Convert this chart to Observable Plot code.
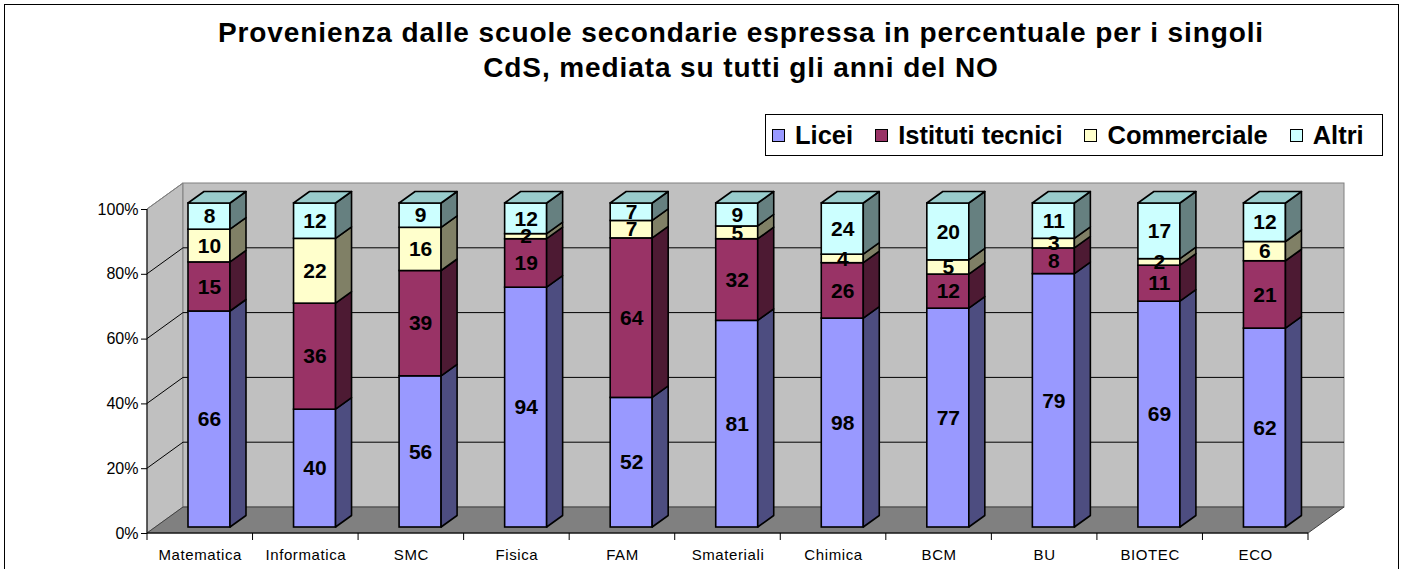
<!DOCTYPE html>
<html>
<head>
<meta charset="utf-8">
<script src="https://cdn.jsdelivr.net/npm/d3@7"></script>
<script src="https://cdn.jsdelivr.net/npm/@observablehq/plot@0.6"></script>
<style>
  html, body { margin: 0; padding: 0; background: #fff; width: 1405px; height: 569px; overflow: hidden; }
  body { font-family: "Liberation Sans", Arial, sans-serif; color: #000; position: relative; }
  #border { position: absolute; left: 4px; top: 4px; width: 1395px; height: 600px; border: 1px solid #000; box-sizing: border-box; }
  #title { position: absolute; left: 0; top: 15px; width: 1482px; text-align: center; font-weight: bold; font-size: 28px; letter-spacing: 0.9px; line-height: 35px; white-space: nowrap; }
  #legend { position: absolute; left: 765px; top: 114px; width: 618px; height: 42px; border: 1px solid #000; box-sizing: border-box; display: flex; align-items: center; padding-left: 6px; background: #fff; white-space: nowrap; overflow: visible; }
  .item { display: flex; align-items: center; flex-shrink: 0; margin-right: 22px; font-weight: bold; font-size: 25.5px; white-space: nowrap; }
  .sw { display: inline-block; flex-shrink: 0; width: 13px; height: 13px; border: 1px solid #000; box-sizing: border-box; margin-right: 10px; }
  #chart { position: absolute; left: 0; top: 170px; }
  #chart g[aria-label="x-axis tick label"] text { letter-spacing: 0.6px; }
</style>
</head>
<body>
<div id="border"></div>
<div id="title">Provenienza dalle scuole secondarie espressa in percentuale per i singoli<br>CdS, mediata su tutti gli anni del NO</div>
<div id="legend"></div>
<div id="chart"></div>
<script>
// ---------------- data ----------------
const categories = ["Matematica", "Informatica", "SMC", "Fisica", "FAM", "Smateriali", "Chimica", "BCM", "BU", "BIOTEC", "ECO"];
const seriesNames = ["Licei", "Istituti tecnici", "Commerciale", "Altri"];
const licei = [66, 40, 56, 94, 52, 81, 98, 77, 79, 69, 62];
const istitutiTecnici = [15, 36, 39, 19, 64, 32, 26, 12, 8, 11, 21];
const commerciale = [10, 22, 16, 2, 7, 5, 4, 5, 3, 2, 6];
const altri = [8, 12, 9, 12, 7, 9, 24, 20, 11, 17, 12];
const yTicks = [0, 0.2, 0.4, 0.6, 0.8, 1];

// ---------------- styles ----------------
const frontColors = ["#9999FF", "#993366", "#FFFFCC", "#CCFFFF"];
const sideColors = ["#4D4D80", "#4D1A33", "#808066", "#668080"];
const topColors = ["#7A7ACC", "#7A2952", "#CCCCA3", "#99CCCC"];
const W = 1405, H = 399;
const M = {left: 147, right: 97, top: 39, bottom: 36};
const DEPTH = {dx: 36, dy: -26};          // wall depth
const BAR = {insetLeft: 41, width: 42, dy: -6, sideDx: 16, sideDy: -11.5};

// ---------------- table built from arrays ----------------
const seriesValues = [licei, istitutiTecnici, commerciale, altri];
const rows = [];
categories.forEach((cat, i) => {
  const total = d3.sum(seriesValues, s => s[i]);
  let acc = 0;
  seriesValues.forEach((s, k) => {
    const y1 = acc / total;
    acc += s[i];
    rows.push({cat, series: seriesNames[k], k, value: s[i], y1, y2: acc / total, top: k === seriesValues.length - 1});
  });
});

const bw = (W - M.left - M.right) / categories.length;
const insetRight = bw - BAR.insetLeft - BAR.width;
const labelDx = BAR.insetLeft + BAR.width / 2 - bw / 2;

// walls, floor, gridlines and axis lines
function walls(index, scales) {
  const {x, y} = scales;
  const x0 = M.left, x1 = W - M.right;
  const y0 = y(0), yTop = y(1);
  const g = d3.create("svg:g");
  const dx = DEPTH.dx, dy = DEPTH.dy;
  g.append("polygon").attr("points", [[x0, yTop], [x0 + dx, yTop + dy], [x0 + dx, y0 + dy], [x0, y0]].join(" "))
    .attr("fill", "#C0C0C0").attr("stroke", "#808080");
  g.append("rect").attr("x", x0 + dx).attr("y", yTop + dy).attr("width", x1 - x0).attr("height", y0 - yTop)
    .attr("fill", "#C0C0C0").attr("stroke", "#808080");
  g.append("polygon").attr("points", [[x0, y0], [x1, y0], [x1 + dx, y0 + dy], [x0 + dx, y0 + dy]].join(" "))
    .attr("fill", "#808080").attr("stroke", "#404040");
  for (const v of yTicks) {
    if (v === 0) continue;
    const col = v === 1 ? "#808080" : "#000";
    g.append("line").attr("x1", x0).attr("y1", y(v)).attr("x2", x0 + dx).attr("y2", y(v) + dy).attr("stroke", col);
    if (v < 1) g.append("line").attr("x1", x0 + dx).attr("y1", y(v) + dy).attr("x2", x1 + dx).attr("y2", y(v) + dy).attr("stroke", "#000");
  }
  g.append("line").attr("x1", x0).attr("y1", yTop).attr("x2", x0).attr("y2", y0).attr("stroke", "#000");
  g.append("line").attr("x1", x0).attr("y1", y0).attr("x2", x1).attr("y2", y0).attr("stroke", "#000");
  const b = x.bandwidth ? x.bandwidth() : bw;
  categories.forEach((c, i) => {
    const xs = x(c);
    g.append("line").attr("x1", xs).attr("x2", xs).attr("y1", y0).attr("y2", y0 + 7).attr("stroke", "#000");
    if (i === categories.length - 1) g.append("line").attr("x1", xs + b).attr("x2", xs + b).attr("y1", y0).attr("y2", y0 + 7).attr("stroke", "#000");
  });
  return g.node();
}

// side and top faces of the 3D columns
function barDepth(index, scales) {
  const {x, y} = scales;
  const g = d3.create("svg:g").attr("stroke", "#000").attr("stroke-width", 1.6).attr("stroke-linejoin", "round");
  for (const r of rows) {
    const xl = x(r.cat) + BAR.insetLeft, xr = xl + BAR.width;
    const yt = y(r.y2) + BAR.dy, yb = y(r.y1) + BAR.dy;
    const sx = BAR.sideDx, sy = BAR.sideDy;
    if (yb - yt > 0.01) {
      g.append("polygon").attr("points", [[xr, yt], [xr + sx, yt + sy], [xr + sx, yb + sy], [xr, yb]].join(" "))
        .attr("fill", sideColors[r.k]);
    }
    if (r.top) {
      g.append("polygon").attr("points", [[xl, yt], [xr, yt], [xr + sx, yt + sy], [xl + sx, yt + sy]].join(" "))
        .attr("fill", topColors[r.k]);
    }
  }
  return g.node();
}

const chart = Plot.plot({
  width: W, height: H,
  marginLeft: M.left, marginRight: M.right, marginTop: M.top, marginBottom: M.bottom,
  style: {fontFamily: "'Liberation Sans', Arial, sans-serif", background: "transparent", overflow: "visible", color: "#000"},
  x: {domain: categories, padding: 0, round: false},
  y: {domain: [0, 1]},
  color: {domain: seriesNames, range: frontColors},
  marks: [
    walls,
    Plot.axisY(yTicks, {tickFormat: d => `${Math.round(d * 100)}%`, tickSize: 6, tickPadding: 3, fontSize: 16, label: null, stroke: "#000"}),
    Plot.axisX({tickSize: 0, tickPadding: 16, fontSize: 15, label: null}),
    Plot.barY(rows, {x: "cat", y1: "y1", y2: "y2", fill: "series", stroke: "#000", strokeWidth: 1.6,
      insetLeft: BAR.insetLeft, insetRight: insetRight, dy: BAR.dy}),
    barDepth,
    Plot.text(rows, {x: "cat", y: d => (d.y1 + d.y2) / 2, text: d => String(d.value), dx: labelDx, dy: BAR.dy,
      fontSize: 21, fontWeight: "bold", fill: "#000"})
  ]
});
document.getElementById("chart").appendChild(chart);

// legend
const legend = document.getElementById("legend");
seriesNames.forEach((name, k) => {
  const item = document.createElement("div");
  item.className = "item";
  const sw = document.createElement("span");
  sw.className = "sw";
  sw.style.background = frontColors[k];
  const t = document.createElement("span");
  t.textContent = name;
  item.appendChild(sw); item.appendChild(t);
  legend.appendChild(item);
});
</script>
</body>
</html>
